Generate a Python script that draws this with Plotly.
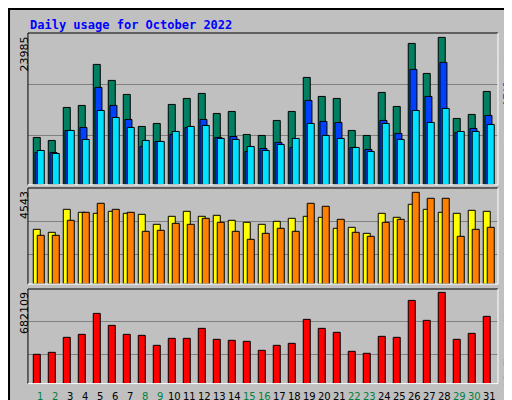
import plotly.graph_objects as go

days = list(range(1, 32))
hits = [7705,7217,12589,12914,19588,16984,14705,9496,9984,13077,14054,14867,11612,11937,8193,8031,10472,11937,17472,14379,14054,8844,8031,15030,12751,23006,18123,23985,10798,11449,15193]
files = [5263,5263,8844,9333,15844,12914,10635,6240,7054,8193,9333,10635,7705,7868,5426,5914,6891,6077,13728,10309,10147,6077,5752,10472,8356,18774,14379,19913,8519,9170,11286]
pages = [5589,5100,8844,7379,12100,10961,9333,7217,7054,8682,9496,9658,7542,7379,6240,5589,6565,7542,9984,8031,7542,6077,5426,9984,7379,12100,10147,12426,8682,8682,9821]
visits = [2709,2561,3700,3552,3502,3601,3502,3453,2957,3354,3601,3354,3403,3155,3056,2957,3106,3254,3354,3304,2759,2808,2511,3502,3304,3948,3700,3552,3502,3651,3601]
sites = [2412,2412,3155,3552,3998,3700,3552,2610,2660,3007,2957,3254,3056,2610,2214,2511,2759,2610,3998,3849,3205,2561,2362,3056,3205,4543,4246,4246,2362,2709,2808]
kbytes = [219032,233966,345971,368372,525179,435575,368372,360905,286235,338504,338504,413174,331037,323570,316103,248900,286235,301169,480377,413174,383306,241433,226499,353438,345971,622250,472910,682109,331037,375839,502778]
weekend = {1,2,8,9,15,16,22,23,29,30}

W = 0.467
def bar(y, color, off, xa, ya):
    return go.Bar(x=days, y=y, width=W, offset=off, marker=dict(color=color, line=dict(color="black", width=1)),
                  xaxis=xa, yaxis=ya, showlegend=False, hoverinfo="skip")

fig = go.Figure()
fig.add_trace(bar(hits, "#008060", -0.233, "x", "y"))
fig.add_trace(bar(files, "#0040ff", -0.12, "x", "y"))
fig.add_trace(bar(pages, "#00e0ff", 0.033, "x", "y"))
fig.add_trace(bar(visits, "#ffff00", -0.233, "x2", "y2"))
fig.add_trace(bar(sites, "#ff8000", 0.033, "x2", "y2"))
fig.add_trace(bar(kbytes, "#ff0000", -0.233, "x3", "y3"))

xr = [0.413, 31.75]
xd = [0.039, 0.957]
common_x = dict(range=xr, domain=xd, showgrid=False, zeroline=False, showline=False, ticks="", showticklabels=False)
yc = dict(showticklabels=False, ticks="", zeroline=False, showline=False, gridcolor="#808080", gridwidth=1)
fig.update_layout(
    width=512, height=400, margin=dict(l=0, r=0, t=0, b=0),
    paper_bgcolor="#c0c0c0", plot_bgcolor="#c0c0c0", barmode="overlay",
    xaxis=dict(**common_x, anchor="y"),
    xaxis2=dict(**common_x, anchor="y2"),
    xaxis3=dict(**common_x, anchor="y3"),
    yaxis=dict(**yc, domain=[0.558, 0.9375], range=[0, 24700], tickvals=[8093, 16397]),
    yaxis2=dict(**yc, domain=[0.31, 0.55], range=[0, 4756], tickvals=[1471, 3106]),
    yaxis3=dict(**yc, domain=[0.061, 0.2975], range=[0, 707500], tickvals=[219000, 465500]),
    font=dict(family="DejaVu Sans Mono"),
)

shapes = [dict(type="rect", xref="paper", yref="paper", x0=0.002, x1=0.998, y0=0.0025, y1=0.9975,
               line=dict(color="black", width=2))]
shapes.append(dict(type="line", xref="paper", yref="paper", x0=0.004, x1=0.996, y0=0.006, y1=0.006, line=dict(color="#808080", width=3)))
shapes.append(dict(type="line", xref="paper", yref="paper", x0=0.994, x1=0.994, y0=0.006, y1=0.994, line=dict(color="#808080", width=3)))
for d in [[0.558, 0.9375], [0.31, 0.55], [0.061, 0.2975]]:
    shapes.append(dict(type="line", xref="paper", yref="paper", x0=xd[0], x1=xd[1], y0=d[1], y1=d[1], line=dict(color="black", width=1)))
    shapes.append(dict(type="line", xref="paper", yref="paper", x0=xd[0], x1=xd[0], y0=d[0], y1=d[1], line=dict(color="black", width=1)))
    shapes.append(dict(type="line", xref="paper", yref="paper", x0=xd[0], x1=xd[1], y0=d[0], y1=d[0], line=dict(color="white", width=1)))
    shapes.append(dict(type="line", xref="paper", yref="paper", x0=xd[1], x1=xd[1], y0=d[0], y1=d[1], line=dict(color="white", width=1)))
fig.update_layout(shapes=shapes)

ann = [
    dict(text="<b>Daily usage for October 2022</b>", x=20/512, y=1-8/400, xanchor="left", yanchor="top",
         font=dict(color="#0000ff", size=12, family="DejaVu Sans Mono")),
    dict(text="23985", x=16/512, y=1-27/400, textangle=-90, xanchor="center", yanchor="top", font=dict(size=11, family="DejaVu Sans", color="black")),
    dict(text="4543", x=16/512, y=1-181/400, textangle=-90, xanchor="center", yanchor="top", font=dict(size=11, family="DejaVu Sans", color="black")),
    dict(text="682109", x=16/512, y=1-282/400, textangle=-90, xanchor="center", yanchor="top", font=dict(size=11, family="DejaVu Sans", color="black")),
]
# right-side legend words (rotated)
legend_words = [
    ("Hits", "#008060", 39), ("/", "#000000", 56), ("Files", "#0040ff", 76), ("/", "#000000", 97), ("Pages", "#00e0ff", 120),
    ("Visits", "#e8e800", 194), ("/", "#000000", 213), ("Sites", "#ff8000", 234),
    ("kB Out", "#00c000", 298), ("/", "#000000", 315), ("kB In", "#0080ff", 335), ("/", "#000000", 354), ("kB F", "#ff0000", 366),
]
for txt, col, yy in legend_words:
    ann.append(dict(text=txt, x=500/512, y=1-yy/400, textangle=-90, xanchor="center", yanchor="middle",
                    font=dict(size=11, color=col, family="DejaVu Sans Mono")))
# day labels
for d in days:
    ann.append(dict(text=str(d), x=d + 0.2, y=1-388/400, xref="x3", yref="paper", xanchor="center", yanchor="middle",
                    font=dict(size=10, family="DejaVu Sans", color="#008040" if d in weekend else "#000000")))
for a in ann:
    a.setdefault("xref", "paper")
    a.update(yref="paper", showarrow=False)
fig.update_layout(annotations=ann)
fig.write_html("out.html")
